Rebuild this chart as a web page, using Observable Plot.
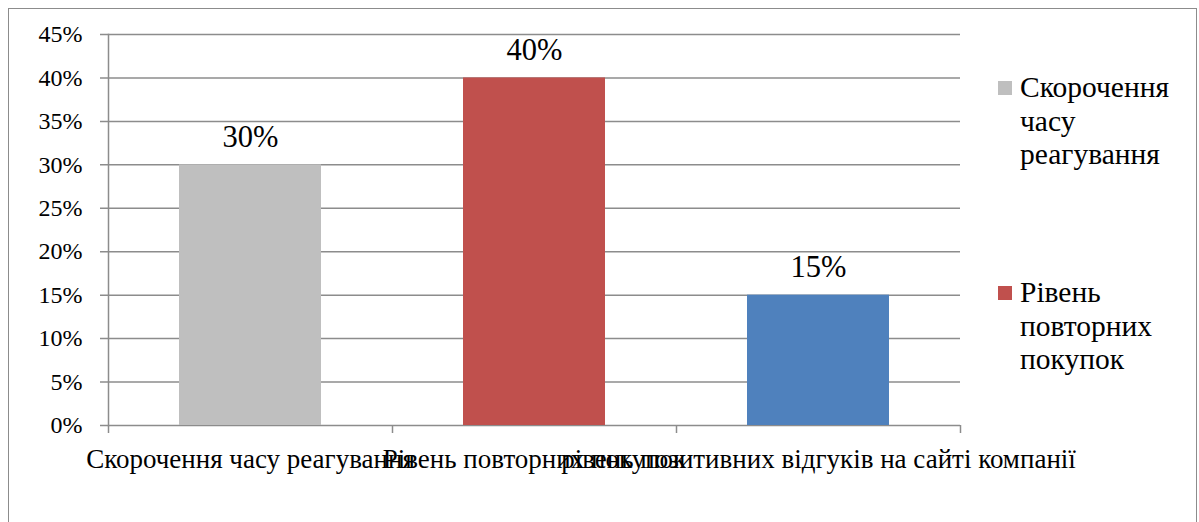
<!DOCTYPE html>
<html>
<head>
<meta charset="utf-8">
<script src="https://cdn.jsdelivr.net/npm/d3@7"></script>
<script src="https://cdn.jsdelivr.net/npm/@observablehq/plot@0.6"></script>
<style>
  body { margin: 0; background: #fff; }
  #chart {
    position: relative; width: 1199px; height: 522px; overflow: hidden;
    font-family: "Liberation Serif", "Times New Roman", serif; color: #000;
  }
  #frame {
    position: absolute; left: 8px; top: 8px; width: 1189px; height: 620px;
    border: 1.5px solid #8c8c8c; box-sizing: border-box;
  }
  #plot { position: absolute; left: 0; top: 0; }
  #legend {
    position: absolute; left: 998px; top: 71px; width: 195px; height: 330px;
    overflow: hidden;
  }
  .entry { position: relative; height: 205px; }
  .swatch { position: absolute; left: 0; top: 10px; width: 14px; height: 14px; }
  .label {
    margin-left: 22px; width: 168px;
    font-size: 29.5px; line-height: 33.5px;
  }
</style>
</head>
<body>
<div id="chart">
  <div id="frame"></div>
  <div id="plot"></div>
  <div id="legend"></div>
</div>
<script>
// Categories, their shares and colours
const categories = [
  "Скорочення часу реагування",
  "Рівень повторних покупок",
  "рівень позитивних відгуків на сайті компанії"
];
const shares = [0.30, 0.40, 0.15];
const colors = ["#BFBFBF", "#C0504D", "#4F81BD"];
const yTicks = [0, 0.05, 0.10, 0.15, 0.20, 0.25, 0.30, 0.35, 0.40, 0.45];

const data = categories.map((category, i) => ({category, share: shares[i]}));
const pct = d3.format(".0%");

const W = 1199, H = 522;
const marginLeft = 108, marginRight = 239, marginTop = 34, marginBottom = 97;
const halfStep = (W - marginLeft - marginRight) / categories.length / 2;
const gridColor = "#8c8c8c";
const serif = "'Liberation Serif', 'Times New Roman', serif";

const chart = Plot.plot({
  width: W,
  height: H,
  marginLeft, marginRight, marginTop, marginBottom,
  style: {fontFamily: serif, background: "transparent", overflow: "visible"},
  x: {domain: categories, paddingInner: 0.5, paddingOuter: 0.25, axis: null},
  y: {domain: [0, 0.45], axis: null},
  color: {domain: categories, range: colors},
  marks: [
    // horizontal gridlines, extended left into short tick stubs
    Plot.ruleY(yTicks, {y: d => d, stroke: gridColor, strokeWidth: 1.5, insetLeft: -8}),
    Plot.barY(data, {x: "category", y: "share", fill: "category"}),
    // vertical value axis line
    Plot.frame({anchor: "left", stroke: gridColor, strokeWidth: 1.5}),
    // category separator ticks below the baseline
    Plot.ruleX(categories, {x: d => d, dx: -halfStep, y1: 0, y2: 0, insetBottom: -8, stroke: gridColor, strokeWidth: 1.5}),
    Plot.ruleX(categories.slice(-1), {x: d => d, dx: halfStep, y1: 0, y2: 0, insetBottom: -8, stroke: gridColor, strokeWidth: 1.5}),
    Plot.axisY({ticks: yTicks, tickFormat: pct, tickSize: 0, tickPadding: 26, fontSize: 24, fill: "#000", label: null}),
    Plot.axisX({tickSize: 0, tickPadding: 23, fontSize: 27, fill: "#000", label: null}),
    // value labels above each bar
    Plot.text(data, {x: "category", y: "share", text: d => pct(d.share), lineAnchor: "bottom", dy: -18, fontSize: 30.5, fill: "#000"})
  ]
});
document.getElementById("plot").appendChild(chart);

// Legend to the right of the plot area
const legend = d3.select("#legend");
categories.forEach((c, i) => {
  const entry = legend.append("div").attr("class", "entry");
  entry.append("div").attr("class", "swatch").style("background", colors[i]);
  entry.append("div").attr("class", "label").text(c);
});
</script>
</body>
</html>
